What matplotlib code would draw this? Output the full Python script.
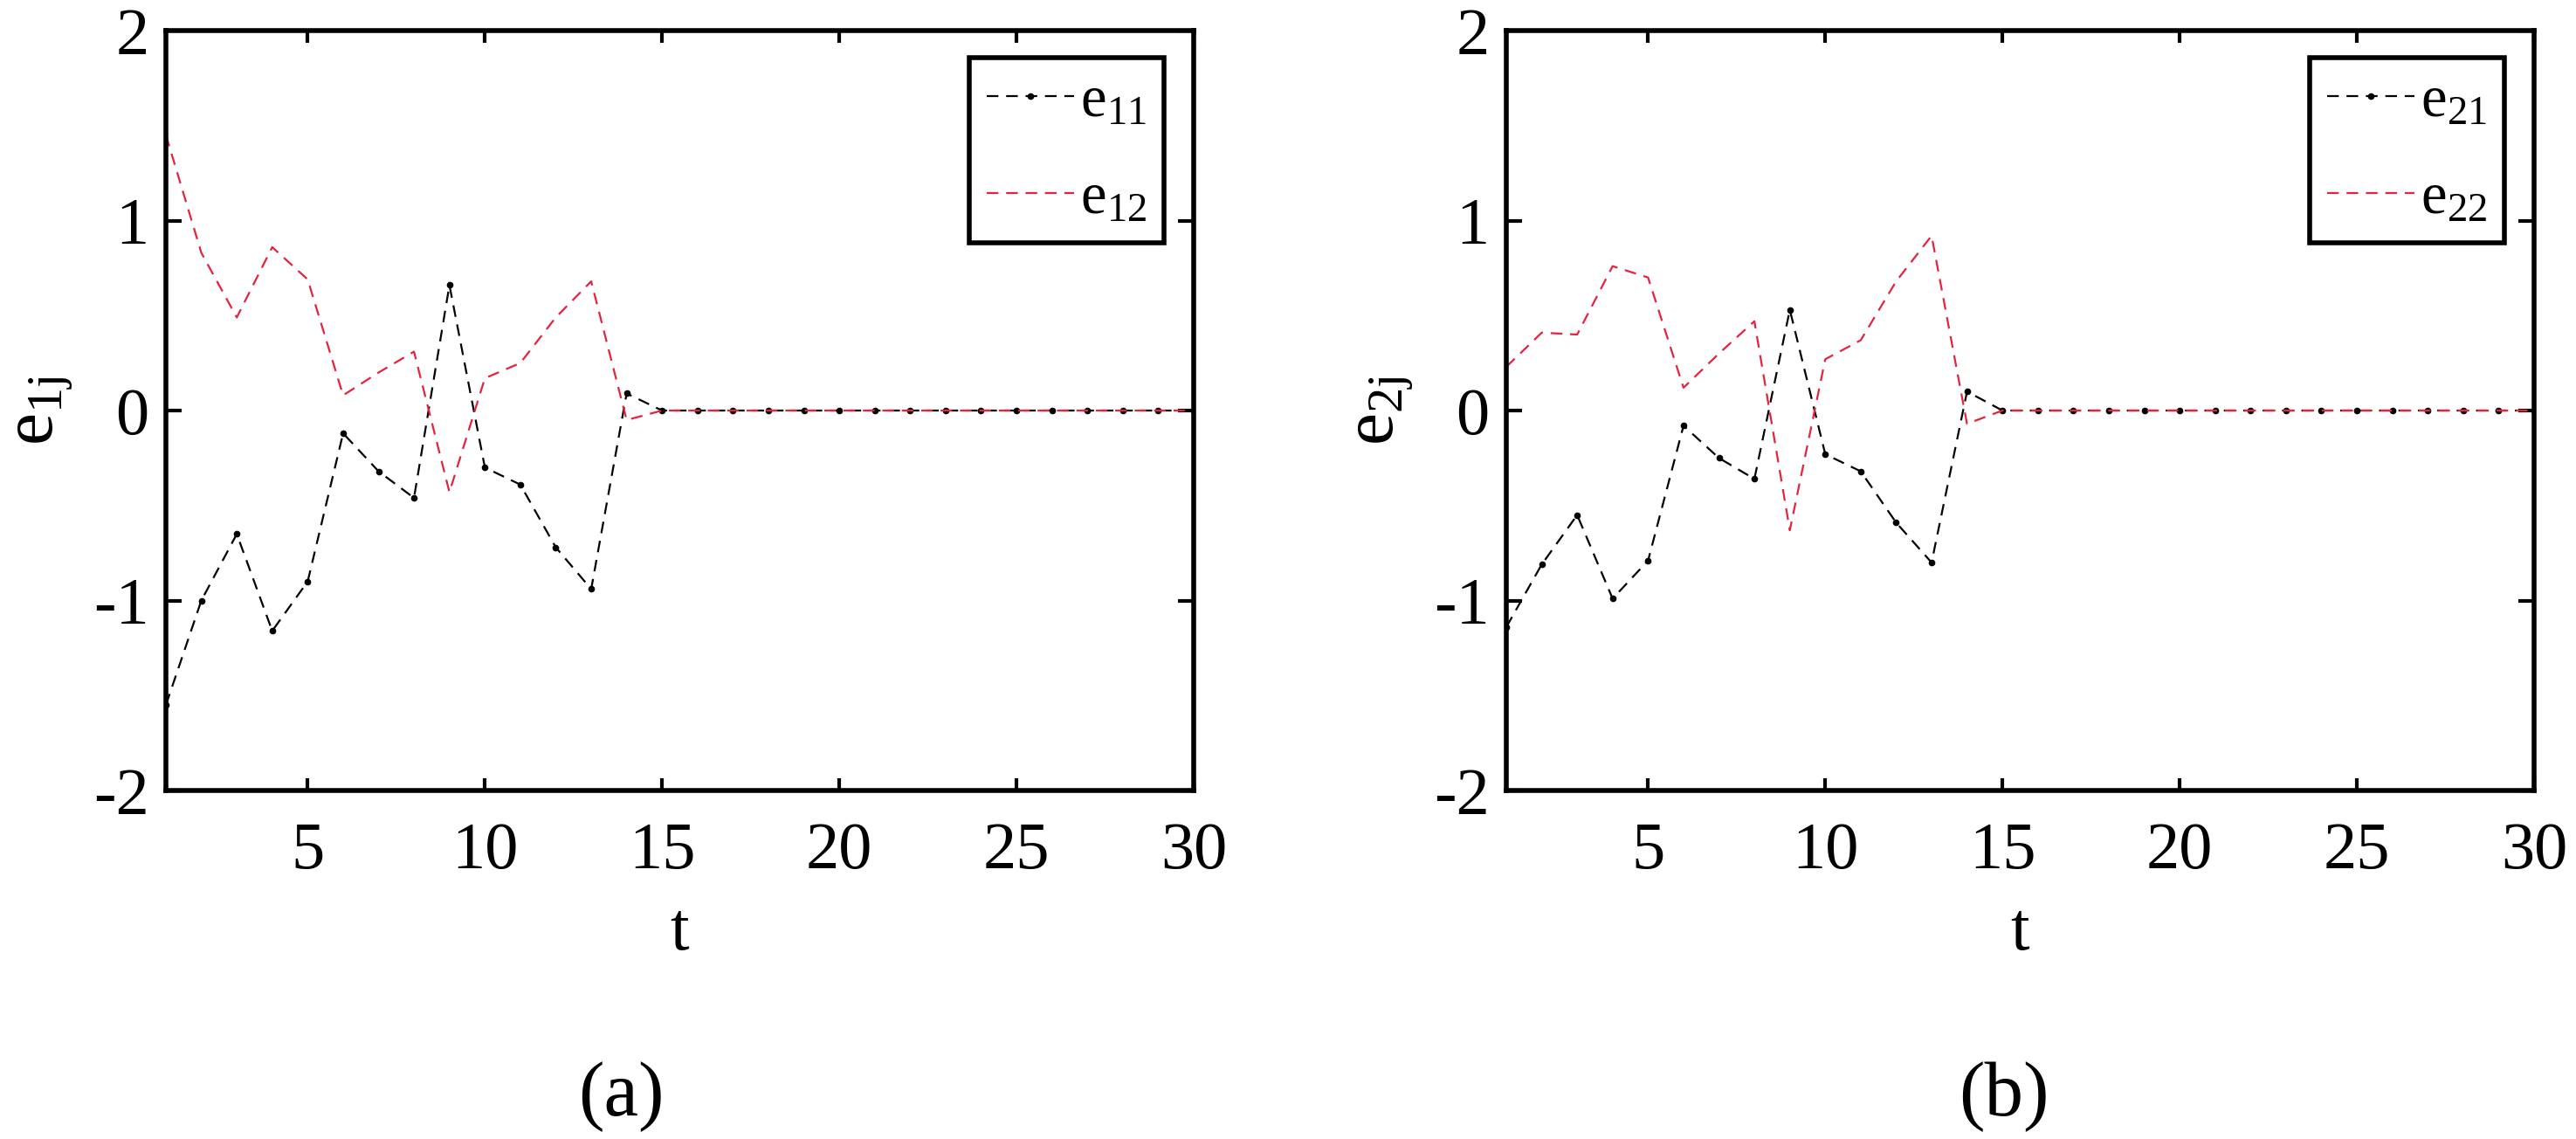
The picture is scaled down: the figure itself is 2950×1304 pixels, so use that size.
import matplotlib
matplotlib.use('Agg')
import matplotlib.pyplot as plt

plt.rcParams['font.family'] = ['Liberation Serif', 'DejaVu Serif']
plt.rcParams['mathtext.fontset'] = 'custom'
plt.rcParams['mathtext.rm'] = 'Liberation Serif'
plt.rcParams['mathtext.it'] = 'Liberation Serif'
plt.rcParams['mathtext.default'] = 'regular'
plt.rcParams['axes.unicode_minus'] = False

# time steps
t = list(range(1, 31))

# panel (a)
e11 = [-1.55, -1.00, -0.65, -1.16, -0.90, -0.12, -0.32, -0.46, 0.66, -0.30,
       -0.39, -0.72, -0.94, 0.09, 0.0, 0.0, 0.0, 0.0, 0.0, 0.0,
       0.0, 0.0, 0.0, 0.0, 0.0, 0.0, 0.0, 0.0, 0.0, 0.0]
e12 = [1.45, 0.83, 0.49, 0.86, 0.69, 0.08, 0.20, 0.31, -0.43, 0.17,
       0.25, 0.49, 0.68, -0.05, 0.0, 0.0, 0.0, 0.0, 0.0, 0.0,
       0.0, 0.0, 0.0, 0.0, 0.0, 0.0, 0.0, 0.0, 0.0, 0.0]

# panel (b)
e21 = [-1.14, -0.81, -0.55, -0.99, -0.79, -0.08, -0.25, -0.36, 0.53, -0.23,
       -0.32, -0.59, -0.80, 0.10, 0.0, 0.0, 0.0, 0.0, 0.0, 0.0,
       0.0, 0.0, 0.0, 0.0, 0.0, 0.0, 0.0, 0.0, 0.0, 0.0]
e22 = [0.23, 0.41, 0.40, 0.76, 0.70, 0.12, 0.30, 0.47, -0.63, 0.27,
       0.37, 0.68, 0.92, -0.07, 0.0, 0.0, 0.0, 0.0, 0.0, 0.0,
       0.0, 0.0, 0.0, 0.0, 0.0, 0.0, 0.0, 0.0, 0.0, 0.0]

panels = [
    ('$e_{1j}$', e11, e12, '$e_{11}$', '$e_{12}$', '(a)'),
    ('$e_{2j}$', e21, e22, '$e_{21}$', '$e_{22}$', '(b)'),
]

fig = plt.figure(figsize=(29.5, 13.04), dpi=100)

red = '#e3233f'
axLefts = [190 / 2950, 1725 / 2950]
captionX = [711 / 2950, 2295 / 2950]

for i, (ylab, black, redData, lab1, lab2, caption) in enumerate(panels):
    ax = fig.add_axes([axLefts[i], 1 - 905 / 1304, 1177 / 2950, 870 / 1304])

    ax.plot(t, black, color='black', linestyle='--', dashes=(6, 4), lw=1.6,
            marker='.', markersize=9, label=lab1)
    ax.plot(t, redData, color=red, linestyle='--', dashes=(6, 4), lw=1.6,
            label=lab2)

    ax.set_xlim(1, 30)
    ax.set_ylim(-2, 2)
    ax.set_xticks([5, 10, 15, 20, 25, 30])
    ax.set_yticks([-2, -1, 0, 1, 2])

    for sp in ax.spines.values():
        sp.set_linewidth(4)

    ax.tick_params(axis='both', direction='in', top=True, right=True,
                   width=3, labelsize=55)
    ax.tick_params(axis='x', length=10, pad=26)
    ax.tick_params(axis='y', length=13, pad=14)

    ax.set_xlabel('t', fontsize=56, labelpad=16)
    ax.set_ylabel(ylab, fontsize=60, labelpad=16)

    leg = ax.legend(loc='upper right', bbox_to_anchor=(0.971, 0.964),
                    fontsize=48, handlelength=1.5, handletextpad=0.1,
                    labelspacing=0.75, borderpad=0.3, borderaxespad=0,
                    fancybox=False, framealpha=1, edgecolor='black')
    leg.get_frame().set_linewidth(4)

    fig.text(captionX[i], 1 - 1256 / 1304, caption, fontsize=64,
             ha='center', va='center')

fig.savefig('out.png', dpi=100)
